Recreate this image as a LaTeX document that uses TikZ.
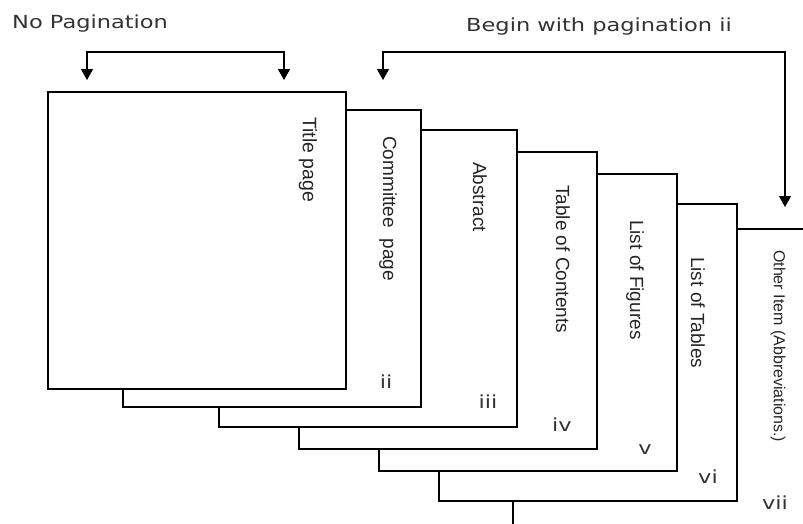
\documentclass[tikz,border=0pt]{standalone}
\usepackage{fontspec}
\setmainfont{Liberation Sans}
\newfontfamily\headfont[FakeStretch=1.25]{DejaVu Sans}
\usetikzlibrary{arrows.meta}

\tikzset{
    sheet/.style={draw, line width=2.2pt, fill=white, inner sep=0pt, outer sep=0pt,
        minimum width=298pt, minimum height=297pt, anchor=north west},
    sheettitle/.style={rotate=-90, anchor=west, inner sep=0pt, text=black!85},
    pagenum/.style={font=\headfont\fontsize{18}{18}\selectfont, text=black!80, inner sep=0pt},
    heading/.style={font=\headfont\fontsize{18}{18}\selectfont, text=black!80, anchor=base west, inner sep=0pt},
    bracket/.style={line width=1.2pt,
        {Triangle[width=12pt,length=11pt]}-{Triangle[width=12pt,length=11pt]}},
}

\begin{document}
\begin{tikzpicture}[x=1pt, y=-1pt]
    \useasboundingbox (0,0) rectangle (803,523);

    % Pages, from the back to the front
    \foreach \name/\px/\py/\title/\fs/\tx/\ty/\num/\nx/\ny in {
        other/513/229/{Other Item (Abbreviations.)}/16/778/250/vii/775/503,
        tables/439/204/{List of Tables}/19/698/257/vi/708/477,
        figures/379/174/{List of Figures}/19/635/220/v/645/450,
        contents/299/152/{Table of Contents}/19/563/185/iv/562/425,
        abstract/219/130/{Abstract}/19/480/162/iii/488/402,
        committee/123/110/{Committee~ page}/19/388/136/ii/386/382
    } {
        \node[sheet] (\name) at (\px,\py) {};
        \node[sheettitle, font=\fontsize{\fs}{\fs}\selectfont] (\name-title) at (\tx,\ty) {\title};
        \node[pagenum] (\name-num) at (\nx,\ny) {\num};
    }
    \node[sheet] (titlepg) at (48,92) {};
    \node[sheettitle, font=\fontsize{19.5}{19.5}\selectfont] (titlepg-title) at (308,117) {Title page};

    % Headings and brackets
    \node[heading] (nopag) at (12,28) {No Pagination};
    \node[heading] (begpag) at (466,31) {Begin with pagination ii};

    \coordinate (np-a) at (87,80);
    \coordinate (np-b) at (284,80);
    \coordinate (bp-a) at (383,80);
    \coordinate (bp-b) at (785,207);
    \draw[bracket] (np-a) -- (np-a |- 0,52) -- (np-b |- 0,52) -- (np-b);
    \draw[bracket] (bp-a) -- (bp-a |- 0,52) -- (bp-b |- 0,52) -- (bp-b);
\end{tikzpicture}
\end{document}
